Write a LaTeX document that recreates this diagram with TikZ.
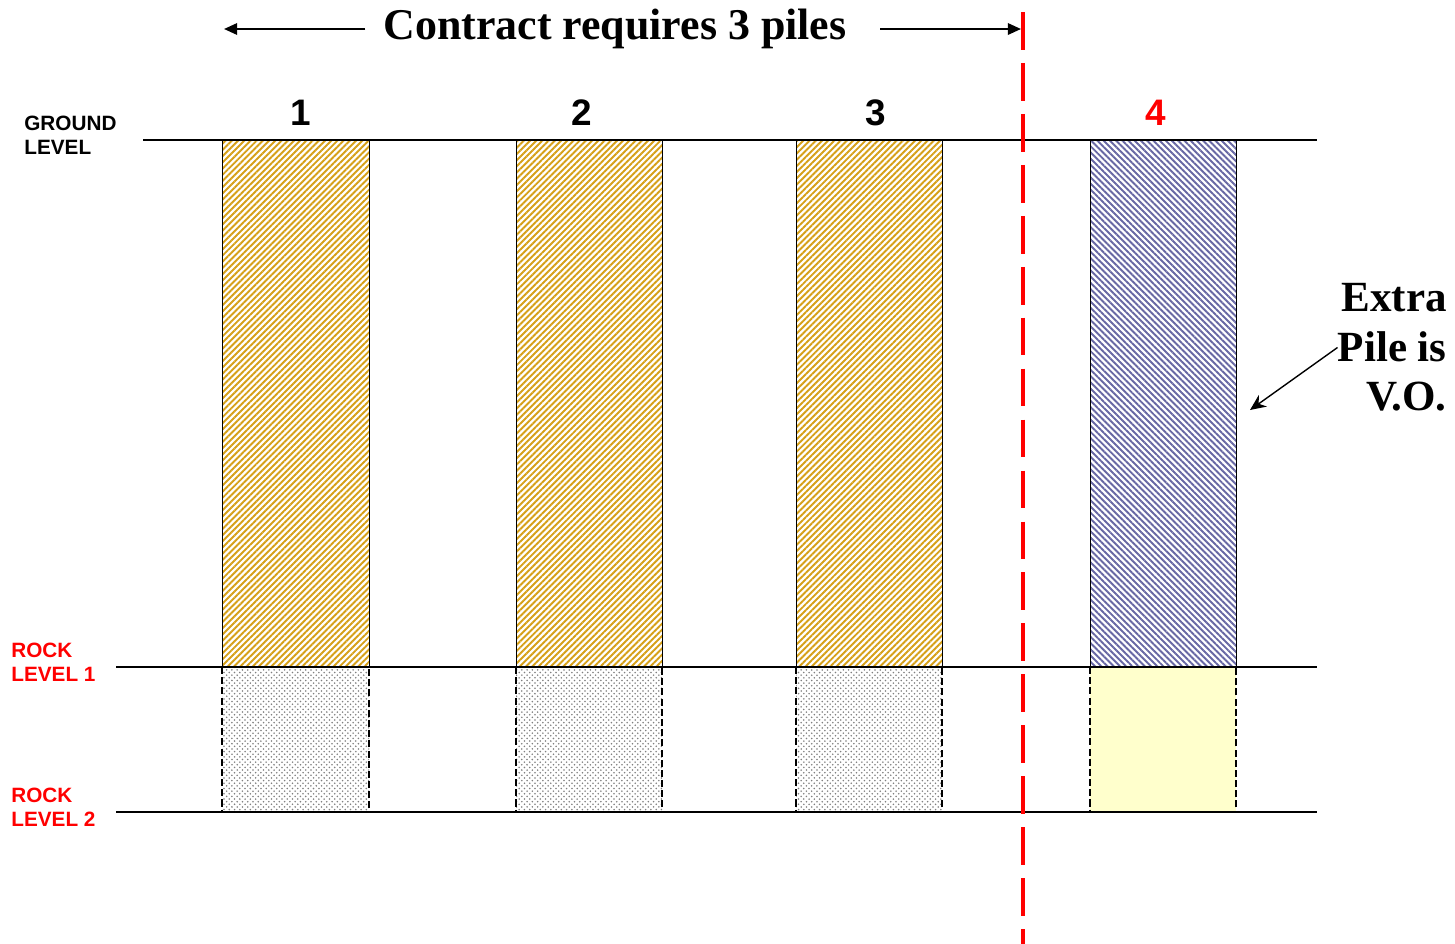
\documentclass[tikz,border=0pt]{standalone}
\usepackage{fontspec}
\setmainfont{Liberation Serif}
\setsansfont{Liberation Sans}
\usetikzlibrary{patterns,patterns.meta,arrows.meta}
\definecolor{pilegold}{RGB}{214,160,24}
\definecolor{pileblue}{RGB}{104,104,164}
\definecolor{rockfill}{RGB}{255,255,204}

\begin{document}
\begin{tikzpicture}[x=0.02cm,y=-0.02cm,inner sep=0pt,
    every node/.style={font=\sffamily\bfseries},
    levellabel/.style={align=left,anchor=north west,font=\sffamily\bfseries\fontsize{11.8}{13.6}\selectfont},
    pilenum/.style={font=\sffamily\bfseries\fontsize{21}{21}\selectfont},
    contract/.style={draw=black,line width=0.5pt,pattern={Lines[angle=45,distance=2.5pt,line width=1.1pt]},pattern color=pilegold},
    extrapile/.style={draw=black,line width=0.5pt,pattern={Lines[angle=-45,distance=2.5pt,line width=1.1pt]},pattern color=pileblue},
    rockedge/.style={draw=black,line width=1.4pt,dash pattern=on 4pt off 1.8pt},
    rockpart/.style={rockedge,pattern=crosshatch dots,pattern color=gray},
    extrarock/.style={rockedge,fill=rockfill},
    levelline/.style={line width=0.7pt},
    tip/.style={line width=1.2pt,-{Triangle[length=7.5pt,width=6.5pt]}}]
    \useasboundingbox (0,0) rectangle (1455,944);

    \draw[contract] (222,140) rectangle (369,667);
    \draw[contract] (516,140) rectangle (662,667);
    \draw[contract] (796,140) rectangle (942,667);
    \draw[extrapile] (1090,140) rectangle (1236,667);
    \draw[rockpart] (222,667) rectangle (369,812);
    \draw[rockpart] (516,667) rectangle (662,812);
    \draw[rockpart] (796,667) rectangle (942,812);
    \draw[extrarock] (1090,667) rectangle (1236,812);

    \draw[levelline] (143,140) -- (1317,140);
    \draw[levelline] (116,667) -- (1317,667);
    \draw[levelline] (116,812) -- (1317,812);

    \coordinate (cuttop) at (1023,12);
    \coordinate (cutbottom) at (1023,944);
    \draw[red,line width=2.3pt,dash pattern=on 21.5pt off 7.5pt] (cuttop) -- (cutbottom);

    \node[font=\bfseries\fontsize{25}{30}\selectfont] at (615,29) (title) {Contract requires 3 piles};
    \coordinate (contractL) at (224,30);
    \coordinate (contractR) at (1021,30);
    \draw[tip] ([xshift=-10pt]title.west) -- (contractL |- title.west);
    \draw[tip] ([xshift=19pt]title.east) -- (contractR |- title.east);

    \node[pilenum] at (301,113) (n1) {1};
    \node[pilenum] at (582,113) (n2) {2};
    \node[pilenum] at (876,113) (n3) {3};
    \node[pilenum,red] at (1156,113) (n4) {4};

    \node[levellabel] at (24,116) (ground) {GROUND\\LEVEL};
    \node[levellabel,red] at (11,643) (rock1) {ROCK\\LEVEL 1};
    \node[levellabel,red] at (11,788) (rock2) {ROCK\\LEVEL 2};

    \node[align=right,anchor=north east,font=\bfseries\fontsize{24.5}{28.3}\selectfont] at (1447,283) (extra) {Extra\\Pile is\\V.O.};
    \coordinate (extratip) at (1250,410);
    \draw[line width=0.8pt,-{Stealth[length=9pt,width=8pt]}] (extra.west) -- (extratip);
\end{tikzpicture}
\end{document}
